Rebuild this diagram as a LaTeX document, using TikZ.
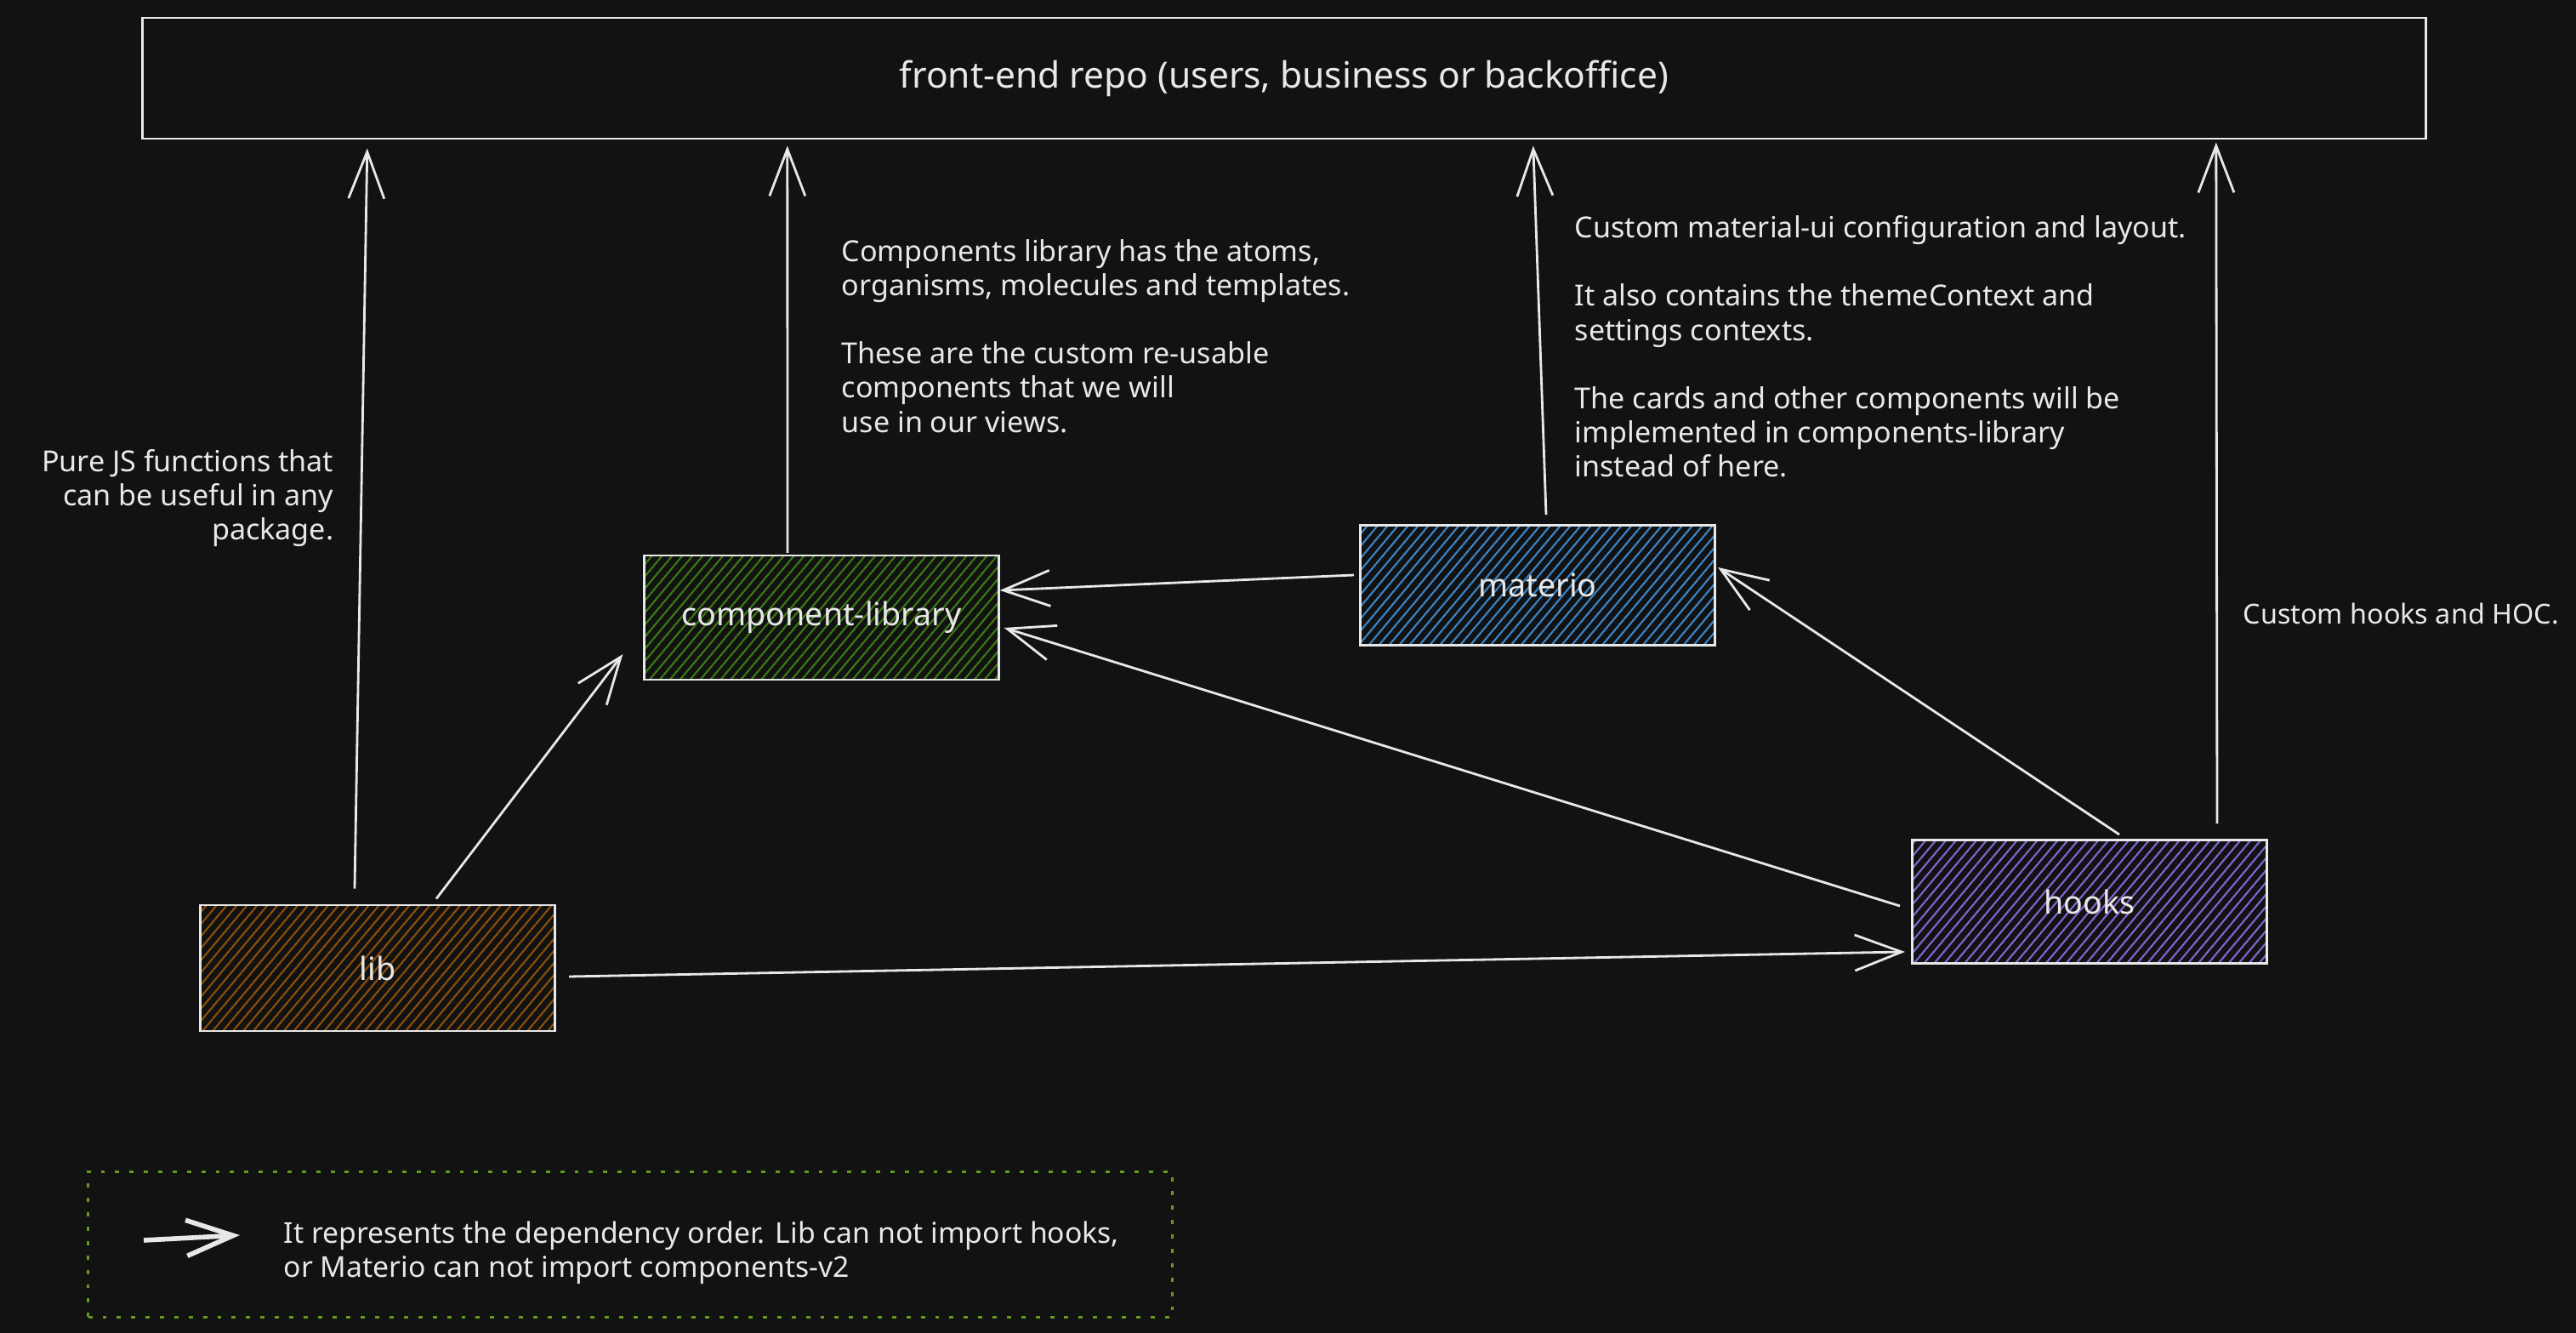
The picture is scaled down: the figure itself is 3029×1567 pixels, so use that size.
\documentclass[tikz,border=0pt]{standalone}
\usepackage{fontspec}
\setmainfont{Noto Sans}
\usetikzlibrary{arrows.meta, patterns.meta}
\definecolor{bgdark}{HTML}{121212}
\definecolor{inkwhite}{HTML}{E8E8E8}
\definecolor{hatchgreen}{HTML}{3B7A12}
\definecolor{hatchorange}{HTML}{8C500A}
\definecolor{hatchblue}{HTML}{3A86C8}
\definecolor{hatchpurple}{HTML}{8264D2}
\definecolor{legendgreen}{HTML}{66991F}
\def\notefont{\fontsize{9.7pt}{11.4pt}\selectfont}
\def\boxfont{\fontsize{10.7pt}{12pt}\selectfont}
\def\notegap{\\[11.4pt]}

\begin{document}
\begin{tikzpicture}[x=0.01cm, y=-0.01cm,
  pkg/.style={draw=inkwhite, line width=0.8pt, inner sep=0pt, text=inkwhite, font=\boxfont,
    minimum width=4.17cm, minimum height=1.46cm,
    pattern={Lines[angle=50,distance=2.6pt,line width=0.6pt]}, pattern color=#1},
  note/.style={inner sep=0pt, text=inkwhite, font=\notefont},
  dep/.style={color=inkwhite, line width=0.8pt, -{Straight Barb[length=5.5mm,width=4.2mm]}}]
  \useasboundingbox (0,0) rectangle (3029,1567);
  \fill[bgdark] (0,0) rectangle (3029,1567);

  \node[draw=inkwhite, line width=0.8pt, text=inkwhite, font=\fontsize{12.1pt}{14pt}\selectfont,
    minimum width=26.84cm, minimum height=1.42cm] (repo) at (1510,92)
    {front-end repo (users, business or backoffice)};
  \node[pkg=hatchgreen] (cl) at (966,726) {component-library};
  \node[pkg=hatchblue, minimum height=1.41cm] (materio) at (1808,688) {materio};
  \node[pkg=hatchpurple, minimum height=1.45cm] (hooks) at (2457,1060) {hooks};
  \node[pkg=hatchorange, minimum height=1.48cm] (lib) at (444,1138) {lib};

  \node[note, anchor=north west, align=left] (notecl) at (989,281)
    {Components library has the atoms,\\ organisms, molecules and templates.\notegap
     These are the custom re-usable\\ components that we will\\ use in our views.};
  \node[note, anchor=north west, align=left] (notemat) at (1851,253)
    {Custom material-ui configuration and layout.\notegap
     It also contains the themeContext and\\ settings contexts.\notegap
     The cards and other components will be\\ implemented in components-library\\ instead of here.};
  \node[note, anchor=north east, align=right] (notelib) at (393,528)
    {Pure JS functions that\\ can be useful in any\\ package.};
  \node[note, anchor=west, font=\fontsize{9.2pt}{11.4pt}\selectfont] (notehooks) at (2637,721)
    {Custom hooks and HOC.};

  % legend
  \node[draw=legendgreen, line width=0.9pt, dash pattern=on 1.4pt off 3.4pt,
    minimum width=12.74cm, minimum height=1.71cm] (legend) at (741,1463) {};
  \coordinate (keytail) at ([shift={(67,-5)}]legend.west);
  \coordinate (keytip) at ([shift={(180,-11)}]legend.west);
  \draw[inkwhite, line width=1.6pt, -{Straight Barb[length=5.5mm,width=4.2mm]}] (keytail) -- (keytip);
  \node[note, anchor=north west, align=left, font=\fontsize{9.6pt}{11.4pt}\selectfont] (legendtext) at (333,1435)
    {It represents the dependency order. Lib can not import hooks,\\ or Materio can not import components-v2};

  \path[dep]
    ([shift={(-27,-18)}]lib.north) edge ([shift={(266,10)}]repo.south west)
    ([shift={(69,-6)}]lib.north) edge ([shift={(-24,-31)}]cl.south west)
    ([shift={(15,10)}]lib.east) edge ([shift={(-7,-15)}]hooks.south west)
    ([shift={(-40,-2)}]cl.north) edge ([shift={(760,7)}]repo.south west);

  \path[dep]
    ([shift={(-6,-12)}]materio.west) edge ([shift={(0,-32)}]cl.east)
    ([shift={(10,-11)}]materio.north) edge ([shift={(1637,7)}]repo.south west)
    ([shift={(-13,5)}]hooks.west) edge ([shift={(5,12)}]cl.east)
    ([shift={(35,-5)}]hooks.north) edge ([shift={(2,-21)}]materio.east)
    ([shift={(150,-18)}]hooks.north) edge ([shift={(2440,3)}]repo.south west);
\end{tikzpicture}
\end{document}
